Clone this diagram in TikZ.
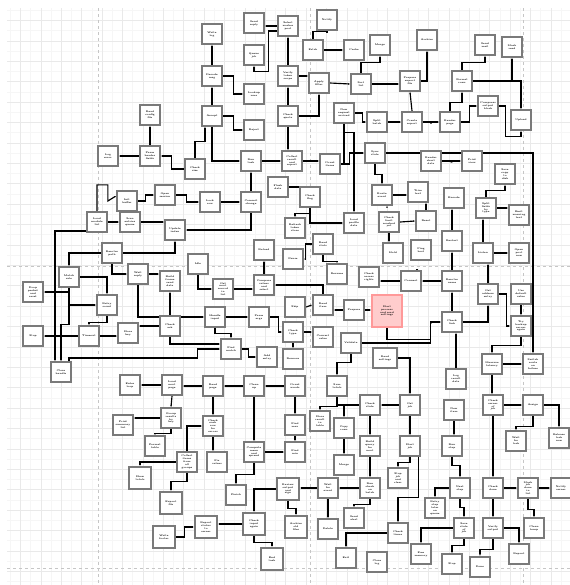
\documentclass[tikz,border=0pt]{standalone}
\usepackage{tikz}
\usetikzlibrary{arrows.meta,calc}
\pgfdeclarelayer{grid}\pgfdeclarelayer{bg}
\pgfsetlayers{grid,bg,main}

\begin{document}
\begin{tikzpicture}[x=0.35mm, y=-0.35mm, >={Stealth[length=1.8pt,width=1.6pt]},
  st/.style={draw=black!52, line width=0.68mm, fill=white, minimum width=7.1mm, minimum height=7.1mm,
    inner sep=0.3pt, align=center, text width=6mm, font=\fontsize{2.4}{2.9}\selectfont\bfseries},
  bst/.style={st, minimum width=7.9mm, minimum height=7.9mm, text width=6.8mm},
  hot/.style={st, draw=red!40, fill=red!20, minimum width=10.6mm, minimum height=11mm, text width=9.3mm},
  go/.style={->, line width=0.4mm}]
  \useasboundingbox (0,0) rectangle (570,585);
  \begin{pgfonlayer}{grid}
    \fill[white] (0,0) rectangle (570,585);
    \draw[gray!7, step=3.57mm] (7,8) grid (570,585);
    \draw[gray!17, step=7.14mm] (7,8) grid (570,585);
    \draw[gray!45, dashed, line width=0.3mm] (98,8) -- (98,585) (310,8) -- (310,585) (523,8) -- (523,585);
    \draw[gray!45, dashed, line width=0.3mm] (7,266) -- (570,266) (7,568) -- (570,568);
  \end{pgfonlayer}

  % upper left
  \node[st](b150-115) at (150,115){Read\\ config\\ file};
  \node[st](b108-156) at (108,156){Log\\ error};
  \node[st](b150-156) at (150,156){Parse\\ header\\ fields};
  \node[st](b195-169) at (195,169){Check\\ size};
  \node[st](b165-195) at (165,195){Open\\ session};
  \node[st](b127-200) at (127,201){Init\\ buffer};
  \node[st](b96-222) at (97,222){Load\\ module\\ list};
  \node[st](b129-222) at (130,222){Scan\\ entries\\ queue};
  \node[st](b175-230) at (175,230){Update\\ index};
  \node[st](b112-253) at (112,253){Resolve\\ path};
  \node[st](b69-277) at (69,277){Match\\ rule};
  \node[st](b138-274) at (138,274){Wait\\ reply};
  \node[st](b170-281) at (170,281){Build\\ frame\\ send\\ data};
  \node[st](b33-292) at (33,292){Drop\\ packet\\ and\\ reset};
  \node[st](b107-305) at (107,305){Retry\\ count};
  \node[st](b33-336) at (33,336){Stop};
  \node[st](b89-336) at (89,336){Timeout};
  \node[st](b128-333) at (128,333){Store\\ key};
  \node[st](b170-326) at (170,326){Check\\ ack};
  \node[st](b61-370) at (61,372){Close\\ handle};
  \node[st](b198-264) at (198,264){Idle};

  % upper middle
  \node[st](b212-34) at (212,34){Write\\ log};
  \node[st](b254-23) at (254,23){Send\\ reply};
  \node[st](b254-55) at (254,55){Queue\\ job};
  \node[st](b288-26) at (288,26){Select\\ worker\\ pool};
  \node[st](b327-20) at (327,20){Notify};
  \node[st](b212-76) at (212,76){Decode\\ msg};
  \node[st](b254-94) at (254,94){Lookup\\ user};
  \node[st](b288-76) at (288,76){Verify\\ token\\ scope};
  \node[st](b313-50) at (313,50){Fetch};
  \node[st](b354-50) at (354,50){Cache};
  \node[st](b380-45) at (380,45){Merge};
  \node[st](b319-83) at (319,83){Apply\\ filter};
  \node[st](b361-84) at (361,84){Sort\\ list};
  \node[st](b212-116) at (212,116){Accept};
  \node[st](b254-130) at (254,130){Reject};
  \node[st](b288-116) at (288,116){Check\\ quota};
  \node[st](b344-113) at (344,113){New\\ request\\ arrived};
  \node[st](b377-122) at (377,122){Split\\ batch};
  \node[st](b251-161) at (251,161){Run\\ task};
  \node[st](b292-161) at (292,161){Collect\\ result\\ and\\ report};
  \node[st](b330-164) at (330,164){Count\\ items};
  \node[st](b375-153) at (375,153){Sync\\ state};
  \node[st](b210-202) at (210,202){Lock\\ row};
  \node[st](b251-202) at (251,202){Commit\\ change};
  \node[st](b278-187) at (278,187){Flush\\ data};
  \node[st](b310-197) at (310,197){Check\\ flag};
  \node[st](b382-195) at (382,195){Route\\ event};

  % upper right
  \node[st](b427-40) at (427,40){Archive};
  \node[st](b485-45) at (485,45){Send\\ mail};
  \node[st](b512-47) at (512,47){Mark\\ read};
  \node[st](b410-81) at (410,81){Prepare\\ export\\ file};
  \node[st](b462-81) at (462,81){Format\\ rows};
  \node[st](b488-106) at (488,106){Compress\\ output\\ block};
  \node[st](b521-120) at (521,120){Upload};
  \node[st](b412-122) at (412,122){Create\\ report};
  \node[st](b450-122) at (450,122){Render\\ page};
  \node[st](b431-161) at (431,161){Render\\ chart\\ data};
  \node[st](b472-161) at (472,161){Print\\ view};
  \node[st](b505-174) at (505,174){Save\\ copy\\ to\\ disk};
  \node[st](b418-192) at (418,192){Trim\\ text};
  \node[st](b454-198) at (454,198){Encode};
  \node[st](b486-208) at (486,208){Split\\ fields\\ by\\ type};
  \node[st](b519-215) at (519,215){Emit\\ warning\\ text};

  % centre
  \node[st](b295-228) at (295,228){Refresh\\ token\\ store};
  \node[st](b354-223) at (354,223){Load\\ profile\\ data};
  \node[st](b323-244) at (323,244){Read\\ stats};
  \node[st](b264-250) at (264,250){Reload};
  \node[st](b293-259) at (293,259){Pause};
  \node[st](b337-274) at (337,274){Resume};
  \node[st](b369-277) at (369,277){Check\\ access\\ rights};
  \node[st](b223-289) at (223,289){Get\\ next\\ record\\ in\\ list};
  \node[st](b264-285) at (264,285){Compare\\ values\\ and\\ select};
  \node[st](b295-307) at (295,307){Skip};
  \node[st](b323-305) at (323,305){Read\\ item};
  \node[st](b354-310) at (354,310){Prepare};
  \node[hot](red) at (387,311){Start\\ process\\ and read\\ settings};
  \node[st](b215-317) at (215,317){Handle\\ input};
  \node[st](b259-317) at (259,317){Parse\\ args};
  \node[st](b293-332) at (293,332){Check\\ type};
  \node[st](b323-337) at (323,337){Convert\\ value};
  \node[st](b351-343) at (351,343){Validate};
  \node[st](b231-349) at (231,349){Find\\ match};
  \node[st](b267-357) at (267,357){Add\\ entry};
  \node[st](b293-359) at (293,359){Remove};

  % centre right
  \node[st](b389-222) at (389,222){Check\\ limit\\ reached\\ yet};
  \node[st](b426-221) at (426,221){Reset};
  \node[st](b393-253) at (393,253){Hold};
  \node[st](b421-250) at (421,250){Ping\\ host};
  \node[st](b452-241) at (452,241){Restart};
  \node[st](b483-253) at (483,253){Listen};
  \node[st](b519-253) at (519,253){Open\\ port\\ now};
  \node[st](b411-281) at (411,281){Connect};
  \node[st](b452-281) at (452,281){Resolve\\ name};
  \node[st](b488-294) at (488,294){Get\\ address\\ entry};
  \node[st](b521-294) at (521,294){Use\\ default\\ value};
  \node[st](b452-322) at (452,322){Check\\ link};
  \node[st](b521-326) at (521,326){Try\\ backup\\ server\\ again};
  \node[st, minimum width=8.2mm](b385-358) at (385,358){Read\\ settings};
  \node[st](b492-364) at (492,364){Measure\\ latency};
  \node[st](b533-364) at (533,364){Switch\\ route\\ on\\ failure};
  \node[st](b456-379) at (456,379){Log\\ result\\ data};

  % middle row
  \node[st](b130-386) at (130,385){Enter\\ loop};
  \node[st](b172-386) at (172,385){Load\\ next\\ page};
  \node[st](b213-386) at (213,386){Read\\ page};
  \node[st](b254-386) at (254,386){Clean\\ up};
  \node[st](b295-386) at (295,386){Count\\ words};
  \node[st](b337-386) at (337,386){Sum\\ totals};

  % lower left
  \node[st](b171-418) at (171,418){Group\\ results\\ by\\ key};
  \node[st](b123-425) at (123,425){Print\\ summary\\ list};
  \node[st](b155-446) at (155,446){Format\\ table};
  \node[st](b187-462) at (187,462){Collect\\ items\\ from\\ all\\ groups};
  \node[bst](b140-478) at (140,478){Show\\ totals};
  \node[bst](b171-503) at (171,503){Export\\ file};
  \node[bst](b164-537) at (164,537){Write\\ footer};

  % lower middle
  \node[st](b213-426) at (213,426){Check\\ each\\ row\\ for\\ errors};
  \node[st](b217-462) at (217,462){Fix\\ values};
  \node[st](b254-452) at (254,452){Compute\\ mean\\ and\\ spread};
  \node[st](b295-425) at (295,425){Find\\ max};
  \node[st](b295-452) at (295,452){Find\\ min};
  \node[st](b320-421) at (320,421){Store\\ result\\ in\\ table};
  \node[st](b344-428) at (344,428){Copy\\ rows};
  \node[st](b370-405) at (370,405){Check\\ state};
  \node[st](b370-446) at (370,446){Build\\ query\\ for\\ next};
  \node[st](b344-465) at (344,465){Merge};
  \node[st](b236-495) at (236,495){Finish};
  \node[bst](b288-489) at (288,489){Review\\ output\\ and\\ sign};
  \node[st](b328-488) at (328,488){Wait\\ for\\ event};
  \node[st](b370-488) at (370,488){Run\\ check\\ on\\ batch};
  \node[st](b354-518) at (354,518){Send\\ alert};
  \node[bst](b206-527) at (206,527){Report\\ status\\ to\\ owner};
  \node[bst](b254-524) at (254,524){Check\\ input\\ again};
  \node[bst](b296-527) at (296,527){Archive\\ old\\ files};
  \node[st](b328-529) at (328,529){Delete};
  \node[bst](b272-559) at (272,559){End\\ task};
  \node[st](b346-558) at (346,558){Exit};
  \node[st](b377-562) at (377,562){Close\\ log};

  % lower right
  \node[st](b410-405) at (410,405){Get\\ job};
  \node[st](b454-410) at (454,410){New\\ item};
  \node[st](b493-405) at (493,405){Check\\ owner\\ of\\ job};
  \node[st](b533-405) at (533,405){Assign};
  \node[st](b410-446) at (410,446){Start\\ job};
  \node[st](b452-446) at (452,446){Run\\ step};
  \node[st](b516-441) at (516,441){Wait\\ for\\ lock};
  \node[st](b559-438) at (559,438){Release\\ lock\\ now};
  \node[st](b398-478) at (398,478){Stop\\ job\\ and\\ clear};
  \node[st](b460-488) at (460,488){Next\\ step};
  \node[st](b493-488) at (493,488){Check\\ done};
  \node[st](b528-488) at (528,488){Mark\\ job\\ done\\ in\\ list};
  \node[st](b561-488) at (561,488){Notify\\ owner};
  \node[st](b435-508) at (435,508){Retry\\ step\\ later\\ on\\ queue};
  \node[st](b398-533) at (398,533){Check\\ timer};
  \node[st](b464-528) at (464,528){Save\\ state\\ of\\ job};
  \node[st](b493-528) at (493,528){Verify\\ output};
  \node[st](b534-528) at (534,528){Clean\\ temp};
  \node[st](b421-554) at (421,554){Free\\ memory};
  \node[st](b452-564) at (452,564){Stop};
  \node[st, minimum height=7.3mm](b480-567) at (480,567){Done};
  \node[st](b519-554) at (519,554){Report};

  \begin{pgfonlayer}{bg}
  % upper left
  \draw[go](b150-156.north)--(b150-115.south); \draw[go](b150-156.west)--(b108-156.east);
  \draw[go](b195-169.west)--++(-12,0)|-(b150-156.east);
  \draw[go](b96-222.north)--++(0,-26)-|($(b127-200.west)+(-8,0)$)--($(b127-200.west)+(0,-5)$);
  \draw[go](b127-200.east)--++(7,0)|-(b165-195.west);
  \draw[go](b165-195.east)--++(10,0)|-(b210-202.west); \draw[go](b210-202.east)--(b251-202.west);
  \draw[go](b96-222.east)--(b129-222.west); \draw[go](b129-222.east)--(b129-222.east-|b175-230.west);
  \draw[go](b251-202.south)|-(b175-230.east); \draw[go](b112-253.east)-|(b175-230.south);
  \draw[go](b112-253.west)-|(b69-277.north); \draw[go](b112-253.south)|-(b138-274.west);
  \draw[go](b138-274.east)--(b138-274.east-|b170-281.west); \draw[go](b170-326.north)--(b170-281.south);
  \draw[go](b69-277.south)|-(b33-292.east); \draw[go](b69-277.east)-|(b107-305.north);
  \draw[go](b69-277.south)|-(b107-305.west);
  \draw[go](b107-305.south)--++(0,6)-|(b89-336.north);
  \draw[go](b89-336.west)--(b33-336.east); \draw[go](b89-336.east)--(b89-336.east-|b128-333.west);
  \draw[go](b170-326.west)--(b170-326.west-|b128-333.east);
  \draw[go]($(b96-222.west)+(0,9)$)-|($(b61-370.north)+(-6,0)$);
  \draw[go](b69-277.south)--++(0,36)-|(b61-370.north);
  \draw[go]($(b61-370.north)+(8,0)$)|-($(b231-349.west)+(-22,9)$)|-(b231-349.west);
  \draw[go](b138-274.south)|-(b215-317.west); \draw[go](b170-326.south)|-($(b231-349.west)+(0,-5)$);
  % upper middle
  \draw[go](b212-76.north)--(b212-34.south); \draw[go](b212-116.north)--(b212-76.south);
  \draw[go](b212-76.east)--++(10,0)|-(b254-94.west); \draw[go](b212-116.east)--++(10,0)|-(b254-130.west);
  \draw[go](b288-26.west)--(b288-26.west-|b254-23.east);
  \draw[go]($(b288-26.west)+(0,5)$)--++(-8,0)|-($(b254-55.south)+(0,5)$)--(b254-55.south);
  \draw[go](b288-76.north)--(b288-26.south); \draw[go](b288-116.north)--(b288-76.south);
  \draw[go](b288-116.south)--(b288-116.south|-b292-161.north);
  \draw[go](b313-50.north)--++(0,-7)-|(b327-20.south); \draw[go](b313-50.east)--(b354-50.west);
  \draw[go](b288-76.east)--(b288-76.east-|b319-83.west); \draw[go](b319-83.east)--(b361-84.west);
  \draw[go](b361-84.north)--++(0,-10)-|(b380-45.south); \draw[go](b288-116.east)-|(b319-83.south);
  \draw[go](b361-84.east)--(b361-84.east-|b410-81.west); \draw[go](b410-81.east)-|(b427-40.south);
  \draw[go](b344-113.east)--++(7,0)|-(b377-122.west); \draw[go](b344-113.south)|-(b330-164.east);
  \draw[go](b344-113.south)--++(0,8)-|(b354-223.north);
  \draw[go](b212-116.south)|-(b251-161.west);
  \draw[go](b195-169.north)--++(0,-16)-|($(b212-116.south)+(-7,0)$);
  \draw[go](b251-202.north)--(b251-161.south); \draw[go](b251-161.east)--(b292-161.west);
  \draw[go](b292-161.east)--(b292-161.east-|b330-164.west);
  \draw[go](b330-164.east)--++(8,0)|-(b375-153.west);
  \draw[go](b278-187.east)-|(b310-197.north);
  \draw[go](b310-197.south)|-(b354-223.west); \draw[go](b310-197.south)--++(0,5)-|(b295-228.north);
  % upper right
  \draw[go](b412-122.north)--(b410-81.south); \draw[go](b377-122.east)--(b412-122.west);
  \draw[go](b412-122.east)--(b450-122.west);
  \draw[go]($(b412-122.east)!0.5!(b450-122.west)$)--($(b412-122.east)!0.5!(b450-122.west)$|-b431-161.north);
  \draw[go](b450-122.north)--++(0,-8)-|(b462-81.south); \draw[go](b450-122.east)--++(8,0)|-(b488-106.west);
  \draw[go](b462-81.north)--++(0,-7)-|(b485-45.south);
  \draw[go](b462-81.east)-|(b512-47.south); \draw[go](b462-81.east)-|(b521-120.north);
  \draw[go](b488-106.east)--++(6,0)|-($(b521-120.south)+(0,5)$)--(b521-120.south);
  \draw[go](b375-153.east)-|(b533-364.north); \draw[go](b431-161.east)--(b472-161.west);
  \draw[go]($(b431-161.east)!0.5!(b472-161.west)$)--($(b431-161.east)!0.5!(b472-161.west)$|-b454-198.north);
  \draw[go](b486-208.north)--++(0,-6)-|(b505-174.south);
  \draw[go](b486-208.east)--(b486-208.east-|b519-215.west);
  \draw[go](b426-221.north)--(b426-221.north|-b418-192.south);
  \draw[go](b452-241.north)--(b452-241.north|-b454-198.south);
  % centre
  \draw[go](b375-153.south)--++(0,10)-|(b382-195.north);
  \draw[go](b382-195.east)--(b382-195.east-|b418-192.west);
  \draw[go]($(b382-195.south)+(5,0)$)--($(b382-195.south)+(5,0)$|-b389-222.north);
  \draw[go](b389-222.east)--(b426-221.west);
  \draw[go](b389-222.south)--(b389-222.south|-b393-253.north);
  \draw[go](b452-281.north)--(b452-241.south); \draw[go](b452-281.west)--(b411-281.east);
  \draw[go]($(b411-281.north)+(6,0)$)--($(b411-281.north)+(6,0)$|-b421-250.south);
  \draw[go](b411-281.west)--(b411-281.west-|b369-277.east);
  \draw[go](b483-253.north)--(b483-253.north|-b486-208.south); \draw[go](b483-253.east)--(b519-253.west);
  \draw[go](b488-294.north)--(b488-294.north|-b483-253.south);
  \draw[go](b452-322.north)--(b452-281.south); \draw[go](b452-322.east)-|(b488-294.south);
  \draw[go](b488-294.east)--++(7,0)|-(b521-326.west); \draw[go](b521-294.south)--(b521-326.north);
  \draw[go](b521-326.south)--++(0,8)-|(b492-364.north); \draw[go](b492-364.east)--(b533-364.west);
  \draw[go](b492-364.south)--(b492-364.south|-b493-405.north);
  \draw[go](b456-379.north)--(b456-379.north|-b452-322.south);
  \draw[go](red.south)--++(0,12)-|($(b452-322.west)+(-10,0)$)--(b452-322.west);
  \draw[go](b351-343.east)-|($(b452-322.west)+(-10,0)$);
  \draw[go](b354-310.east)--(b354-310.east-|red.west);
  \draw[go](b354-310.west)--(b354-310.west-|b323-305.east); \draw[go](b295-307.east)--(b323-305.west);
  \draw[go](b323-305.north)|-(b264-285.east); \draw[go](b264-285.north)--(b264-250.south);
  \draw[go](b223-289.east)--(b223-289.east-|b264-285.west); \draw[go](b198-264.south)|-(b223-289.west);
  \draw[go](b323-244.south)--++(0,6)-|(b337-274.north); \draw[go](b323-244.west)--++(-6,0)|-(b293-259.east);
  \draw[go](b215-317.east)--(b259-317.west); \draw[go](b215-317.south)--++(0,5)-|(b231-349.north);
  \draw[go](b259-317.east)--++(8,0)|-(b293-332.west); \draw[go](b293-332.east)--(b293-332.east-|b323-337.west);
  \draw[go](b293-332.south)--(b293-359.north); \draw[go](b231-349.east)--++(6,0)|-(b267-357.west);
  \draw[go](b351-343.south)--++(0,8)-|(b337-386.north);
  \draw[go](b385-358.east)-|(b410-405.north);
  % middle row and below
  \draw[go](b172-386.west)--(b130-386.east); \draw[go](b213-386.west)--(b213-386.west-|b172-386.east);
  \draw[go](b254-386.west)--(b213-386.east); \draw[go](b295-386.west)--(b254-386.east);
  \draw[go](b172-386.south)--(b171-418.north); \draw[go](b171-418.west)--(b171-418.west-|b123-425.east);
  \draw[go](b171-418.south)--++(0,4)-|(b155-446.north);
  \draw[go](b187-462.west)-|(b140-478.north); \draw[go](b187-462.south)--++(0,8)-|(b171-503.north);
  \draw[go](b164-537.east)--++(8,0)|-(b206-527.west); \draw[go](b187-462.north)|-(b213-426.west);
  \draw[go](b213-386.south)--(b213-426.north); \draw[go](b213-426.south)--(b213-426.south|-b217-462.north);
  \draw[go](b254-386.south)--(b254-452.north); \draw[go](b254-452.east)--(b295-452.west);
  \draw[go](b254-452.south)--++(0,11)-|(b236-495.north);
  \draw[go](b295-386.south)--(b295-425.north); \draw[go](b295-425.south)--(b295-452.north);
  \draw[go](b337-386.south)--++(0,9)-|(b320-421.north); \draw[go](b337-386.south)|-(b370-405.west);
  \draw[go](b410-405.west)--(b370-405.east); \draw[go](b370-405.south)--(b370-446.north);
  \draw[go](b370-405.west)-|(b344-428.north); \draw[go](b344-428.south)--(b344-465.north);
  \draw[go](b370-446.south)--(b370-488.north); \draw[go](b370-488.west)--(b328-488.east);
  \draw[go](b328-488.west)--(b328-488.west-|b288-489.east); \draw[go](b328-488.south)--(b328-529.north);
  \draw[go](b370-488.south)--++(0,5)-|(b354-518.north);
  \draw[go](b288-489.west)-|(b254-524.north); \draw[go](b288-489.south)--++(0,7)-|(b296-527.north);
  \draw[go](b254-524.west)--(b254-524.west-|b206-527.east); \draw[go](b254-524.south)--++(0,6)-|(b272-559.north);
  \draw[go](b398-533.west)-|(b346-558.north);
  % lower right
  \draw[go](b410-405.south)--(b410-446.north); \draw[go](b410-446.south)--++(0,5)-|(b398-478.north);
  \draw[go]($(b410-446.south east)+(-3,0)$)--++(0,40)-|(b398-533.north);
  \draw[go](b454-410.south)--(b454-410.south|-b452-446.north);
  \draw[go](b452-446.south)--++(0,8)-|(b460-488.north); \draw[go](b460-488.south)--++(0,8)-|(b464-528.north);
  \draw[go](b460-488.west)-|(b435-508.north);
  \draw[go](b464-528.south)--++(0,6)-|(b452-564.north); \draw[go](b464-528.west)-|(b421-554.north);
  \draw[go](b493-405.east)--(b533-405.west); \draw[go](b533-405.east)-|(b559-438.north);
  \draw[go](b533-405.south)--++(0,10)-|(b516-441.north); \draw[go](b493-405.south)--(b493-488.north);
  \draw[go](b493-488.east)--(b528-488.west); \draw[go](b528-488.east)--(b561-488.west);
  \draw[go](b528-488.south)--++(0,10)-|(b534-528.north); \draw[go](b493-488.south)--(b493-528.north);
  \draw[go](b493-528.south)--++(0,10)-|(b480-567.north); \draw[go](b493-528.east)-|(b519-554.north);
  \end{pgfonlayer}
\end{tikzpicture}
\end{document}
